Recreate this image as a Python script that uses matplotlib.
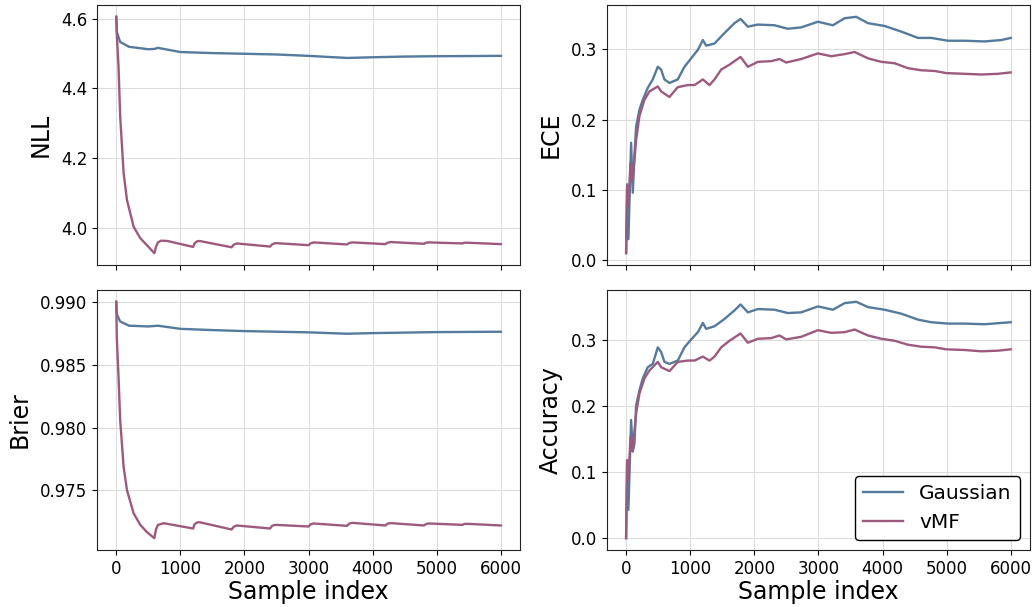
import matplotlib
matplotlib.use("Agg")
import matplotlib.pyplot as plt

GAUSS_COLOR = "#557a9e"
VMF_COLOR = "#9e5a7e"

# NLL
nll_g_x = [0, 10, 60, 200, 500, 600, 650, 1000, 1500, 2000, 2500, 3000, 3500, 3600, 4000, 4500, 5000, 6000]
nll_g_y = [4.605, 4.562, 4.533, 4.519, 4.512, 4.513, 4.516, 4.504, 4.501, 4.499, 4.497, 4.493, 4.488, 4.487,
           4.489, 4.491, 4.492, 4.493]
nll_v_x = [0, 10, 36, 62, 115, 167, 271, 375, 479, 594, 620, 650, 700, 800, 1200, 1220, 1260, 1300, 1800, 1830,
           1880, 2400, 2430, 2480, 3000, 3030, 3080, 3600, 3630, 3680, 4200, 4230, 4280, 4800, 4830, 4880, 5400,
           5430, 5480, 6000]
nll_v_y = [4.605, 4.55, 4.461, 4.318, 4.157, 4.080, 4.003, 3.970, 3.950, 3.927, 3.945, 3.958, 3.963, 3.962,
           3.945, 3.955, 3.961, 3.962, 3.944, 3.951, 3.955, 3.946, 3.952, 3.956, 3.950, 3.955, 3.958, 3.952,
           3.956, 3.958, 3.953, 3.957, 3.959, 3.954, 3.957, 3.958, 3.955, 3.957, 3.957, 3.953]

# Brier
brier_g_x = [0, 10, 60, 200, 500, 650, 1000, 1500, 2000, 2500, 3000, 3600, 4000, 5000, 6000]
brier_g_y = [0.9900, 0.98902, 0.98844, 0.9881, 0.98804, 0.9881, 0.98785, 0.98775, 0.98767, 0.98762, 0.98757,
             0.98746, 0.98751, 0.98759, 0.98762]
brier_v_x = [0, 10, 36, 62, 115, 167, 271, 375, 479, 594, 620, 650, 740, 1200, 1220, 1260, 1300, 1800, 1830,
             1880, 2400, 2430, 2480, 3000, 3030, 3080, 3600, 3630, 3680, 4200, 4230, 4280, 4800, 4830, 4880,
             5400, 5430, 5480, 6000]
brier_v_y = [0.9900, 0.9870, 0.9840, 0.98057, 0.97688, 0.97503, 0.97318, 0.97226, 0.97168, 0.97120, 0.97190,
             0.97225, 0.97239, 0.97197, 0.97230, 0.97245, 0.97247, 0.97189, 0.97210, 0.97221, 0.97197, 0.97218,
             0.97226, 0.97213, 0.97230, 0.97237, 0.97218, 0.97235, 0.97242, 0.97221, 0.97235, 0.97240, 0.97221,
             0.97232, 0.97237, 0.97226, 0.97233, 0.97234, 0.97221]

# ECE
ece_x = [0, 16, 36, 78, 104, 130, 156, 208, 260, 338, 416, 494, 546, 598, 676, 806, 910, 1015, 1119, 1197,
         1249, 1379, 1535, 1691, 1785, 1899, 2055, 2315, 2523, 2731, 2992, 3226, 3408, 3590, 3772, 4032, 4292,
         4553, 4761, 5021, 5281, 5593, 5853, 6000]
ece_g = [0.011, 0.108, 0.030, 0.167, 0.096, 0.148, 0.190, 0.214, 0.228, 0.245, 0.257, 0.275, 0.271, 0.257,
         0.252, 0.257, 0.275, 0.287, 0.299, 0.313, 0.305, 0.308, 0.323, 0.337, 0.343, 0.332, 0.335, 0.334,
         0.329, 0.331, 0.339, 0.334, 0.344, 0.346, 0.337, 0.333, 0.325, 0.316, 0.316, 0.312, 0.312, 0.311,
         0.313, 0.316]
ece_v_x = [0, 16, 36, 68, 104, 156, 208, 286, 364, 494, 546, 676, 806, 962, 1067, 1197, 1301, 1379, 1483, 1613,
           1785, 1899, 2055, 2263, 2393, 2497, 2731, 2992, 3200, 3408, 3564, 3772, 3980, 4188, 4396, 4605, 4813,
           4995, 5281, 5541, 5801, 6000]
ece_v = [0.010, 0.105, 0.077, 0.138, 0.115, 0.171, 0.205, 0.228, 0.240, 0.247, 0.240, 0.232, 0.246, 0.249,
         0.249, 0.257, 0.249, 0.257, 0.271, 0.278, 0.289, 0.275, 0.282, 0.283, 0.286, 0.281, 0.286, 0.294,
         0.290, 0.293, 0.296, 0.287, 0.282, 0.280, 0.273, 0.270, 0.269, 0.266, 0.265, 0.264, 0.265, 0.267]

# Accuracy
acc_g = [0.0, 0.118, 0.043, 0.179, 0.131, 0.143, 0.201, 0.224, 0.242, 0.259, 0.264, 0.289, 0.282, 0.267,
         0.264, 0.269, 0.289, 0.301, 0.312, 0.326, 0.317, 0.321, 0.332, 0.345, 0.354, 0.342, 0.347, 0.346,
         0.341, 0.342, 0.351, 0.346, 0.356, 0.358, 0.350, 0.346, 0.340, 0.331, 0.327, 0.325, 0.325, 0.324,
         0.326, 0.327]
acc_v = [0.0, 0.118, 0.088, 0.153, 0.133, 0.189, 0.219, 0.242, 0.254, 0.267, 0.259, 0.253, 0.267, 0.269,
         0.269, 0.275, 0.269, 0.275, 0.289, 0.299, 0.310, 0.296, 0.302, 0.303, 0.307, 0.301, 0.305, 0.315,
         0.311, 0.312, 0.316, 0.307, 0.302, 0.299, 0.293, 0.290, 0.289, 0.286, 0.285, 0.283, 0.284, 0.286]

panels = [
    ("NLL", nll_g_x, nll_g_y, nll_v_x, nll_v_y),
    ("ECE", ece_x, ece_g, ece_v_x, ece_v),
    ("Brier", brier_g_x, brier_g_y, brier_v_x, brier_v_y),
    ("Accuracy", ece_x, acc_g, ece_v_x, acc_v),
]

fig, axes = plt.subplots(2, 2, figsize=(10.33, 6.07), dpi=100, sharex=True)
fig.subplots_adjust(left=97 / 1033, right=1030 / 1033, top=1 - 5 / 607, bottom=1 - 550 / 607,
                    wspace=0.205, hspace=0.096)

for ax, (name, gx, gy, vx, vy) in zip(axes.flat, panels):
    ax.plot(gx, gy, color=GAUSS_COLOR, lw=1.7, label="Gaussian")
    ax.plot(vx, vy, color=VMF_COLOR, lw=1.7, label="vMF")
    ax.set_ylabel(name, fontsize=17, labelpad=6)
    ax.grid(True, color="#dddddd", lw=0.8)
    ax.tick_params(labelsize=12)
    for s in ax.spines.values():
        s.set_color("#222222")

axes[0, 0].set_yticks([4.0, 4.2, 4.4, 4.6])
axes[1, 0].set_yticks([0.975, 0.980, 0.985, 0.990])
axes[0, 1].set_yticks([0.0, 0.1, 0.2, 0.3])
axes[1, 1].set_yticks([0.0, 0.1, 0.2, 0.3])
for ax in axes[1]:
    ax.set_xlabel("Sample index", fontsize=17, labelpad=2)
    ax.set_xticks([0, 1000, 2000, 3000, 4000, 5000, 6000])

leg = axes[1, 1].legend(loc="lower right", fontsize=14.5, framealpha=1, edgecolor="black", fancybox=True)
leg.get_frame().set_linewidth(1.0)

fig.savefig("out.png", dpi=100)
